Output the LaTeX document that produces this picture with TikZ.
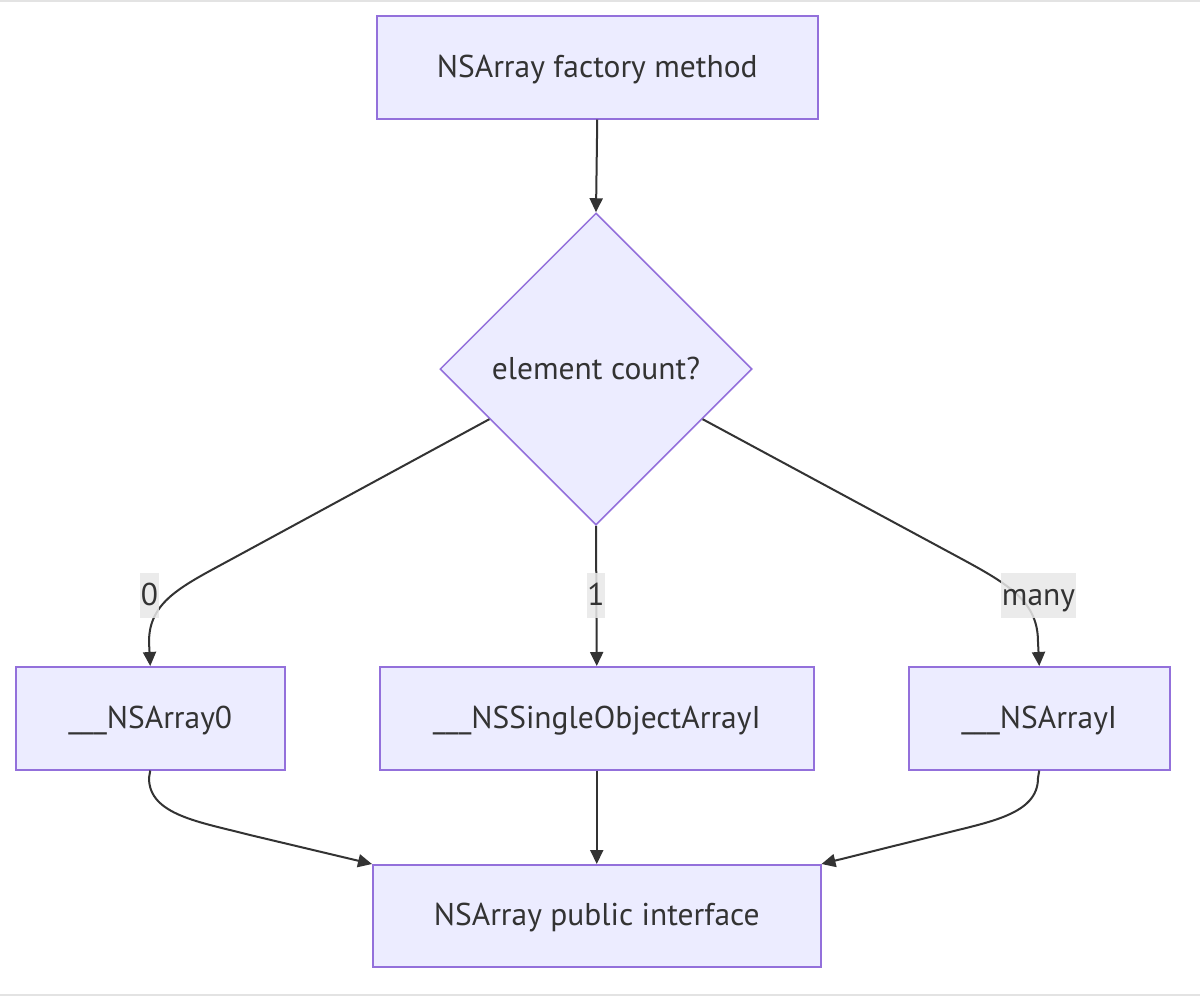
\documentclass[tikz,border=0pt]{standalone}
\usepackage{fontspec}
\setmainfont{PT Sans}
\usetikzlibrary{shapes.geometric,arrows.meta,calc}
\definecolor{boxfill}{HTML}{ECECFF}
\definecolor{boxline}{HTML}{9370DB}
\definecolor{edgecol}{HTML}{333333}
\definecolor{lblbg}{HTML}{E8E8E8}
\definecolor{framecol}{HTML}{E3E3E3}
\begin{document}
\begin{tikzpicture}[x=1pt,y=-1pt,
  txt/.style={text=edgecol, font=\fontsize{31.5}{38}\selectfont, text height=20pt, text depth=0pt},
  box/.style={txt, draw=boxline, fill=boxfill, line width=1.5pt, inner sep=0pt, anchor=north west},
  decision/.style={txt, diamond, draw=boxline, fill=boxfill, line width=1.5pt, inner sep=0pt,
    minimum width=312pt, minimum height=312pt},
  conn/.style={draw=edgecol, line width=2pt, -{Triangle[length=14pt,width=13pt]}},
  lbl/.style={txt, fill=lblbg, fill opacity=0.85, text opacity=1, inner xsep=0.5pt, inner ysep=0pt, minimum height=45pt}
]
\useasboundingbox (0,0) rectangle (1200,996);
\fill[white] (0,0) rectangle (1200,996);
\draw[framecol, line width=1.5pt] (0,1) -- (1200,1);
\draw[framecol, line width=1.5pt] (0,995) -- (1200,995);

\node[box, minimum width=441pt, minimum height=103pt] (top) at (376,15) {NSArray factory method};
\node[decision] (dec) at (596,369) {element count?};
\node[box, minimum width=269pt, minimum height=103pt] (a0) at (15,666) {\_\_\_NSArray0};
\node[box, minimum width=434pt, minimum height=103pt] (a1) at (379,666) {\_\_\_NSSingleObjectArrayI};
\node[box, minimum width=261pt, minimum height=103pt] (ai) at (908,666) {\_\_\_NSArrayI};
\node[box, minimum width=448pt, minimum height=102pt] (pub) at (372,864) {NSArray public interface};

\coordinate (dl) at ($(dec.west)!0.32!(dec.south)$);
\coordinate (dr) at ($(dec.east)!0.32!(dec.south)$);

\draw[conn] (top.south) -- (dec.north);
\draw[conn] (dl) -- (230,560) .. controls (180,587) and (149,602) .. (149,642) -- (a0.north);
\draw[conn] (dec.south) -- (a1.north);
\draw[conn] (dr) -- (960,558) .. controls (1010,585) and (1038,602) .. (1038,642) -- (ai.north);
\draw[conn] (a0.south) -- (149,778) .. controls (149,815) and (200,822) .. (250,835) -- (pub.north west);
\draw[conn] (a1.south) -- (pub.north);
\draw[conn] (ai.south) -- (1038,778) .. controls (1038,815) and (988,822) .. (938,835) -- (pub.north east);

\node[lbl] (l0) at (149.5,595.5) {0};
\node[lbl] (l1) at (596,595.5) {1};
\node[lbl] (lm) at (1038.5,595.5) {many};
\end{tikzpicture}
\end{document}
